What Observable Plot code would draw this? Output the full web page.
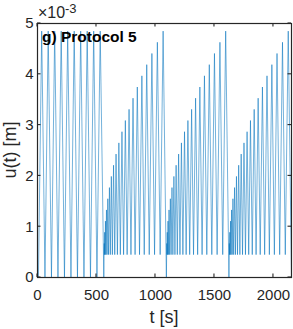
<!DOCTYPE html>
<html><head><meta charset="utf-8">
<script src="https://cdn.jsdelivr.net/npm/d3@7"></script>
<script src="https://cdn.jsdelivr.net/npm/@observablehq/plot@0.6"></script>
<style>body{margin:0;background:#fff}</style>
</head><body><div id="chart"></div>
<script>
// values in units of 1e-3 m
const xTicks = [0, 500, 1000, 1500, 2000];
const yTicks = [0, 1, 2, 3, 4, 5];
const titleText = "g) Protocol 5";
const xLabel = "t [s]";
const yLabel = "u(t) [m]";
const expBase = "\u00d710";
const expPower = "-3";

// segment 1: full-amplitude triangle cycles
const seg1T = [0, 8, 35.6, 63.2, 90.7, 118.3, 145.8, 173.4, 200.9, 228.5, 256.0, 283.6, 311.1, 338.7, 366.2, 393.8, 421.3, 448.9, 476.4, 504.0, 531.5, 562];
const seg1U = [0, 0, 4.85, 0, 4.85, 0, 4.85, 0, 4.85, 0, 4.85, 0, 4.85, 0, 4.85, 0, 4.85, 0, 4.85, 0, 4.85, 0];

// growing ramps: peaks above a baseline
const rampBase = 0.45;
const rampPeaks = [0.67, 0.89, 1.11, 1.33, 1.55, 1.77, 1.99, 2.21, 2.43, 2.65, 2.87, 3.09, 3.31, 3.53, 3.75, 3.97, 4.19, 4.41, 4.63, 4.85];
const ramp1T = [562, 565.8, 567.1, 569.6, 572.1, 575.9, 579.6, 584.6, 589.6, 595.9, 602.1, 609.7, 617.1, 625.9, 634.6, 644.7, 654.7, 665.9, 677.2, 689.7, 702.2, 715.9, 729.7, 744.7, 759.7, 776.0, 792.2, 809.7, 827.2, 846.0, 864.8, 884.8, 904.8, 926.0, 947.2, 969.7, 992.2, 1016.0, 1039.7, 1064.8, 1092.3];
const ramp2T = [1092.3, 1096.1, 1097.4, 1099.9, 1102.4, 1106.2, 1109.9, 1114.9, 1119.9, 1126.2, 1132.4, 1140.0, 1147.4, 1156.2, 1164.9, 1175.0, 1185.0, 1196.2, 1207.5, 1220.0, 1232.5, 1246.2, 1260.0, 1275.0, 1290.0, 1306.3, 1322.5, 1340.0, 1357.5, 1376.3, 1395.1, 1415.1, 1435.1, 1456.3, 1477.5, 1500.0, 1522.5, 1546.3, 1570.0, 1595.1, 1622.6];
const ramp3T = [1622.6, 1626.4, 1627.7, 1630.2, 1632.7, 1636.5, 1640.2, 1645.2, 1650.2, 1656.5, 1662.7, 1670.3, 1677.7, 1686.5, 1695.2, 1705.3, 1715.3, 1726.5, 1737.8, 1750.3, 1762.8, 1776.5, 1790.3, 1805.3, 1820.3, 1836.6, 1852.8, 1870.3, 1887.8, 1906.6, 1925.4, 1945.4, 1965.4, 1986.6, 2007.8, 2030.3, 2052.8, 2076.6, 2100.3, 2125.4, 2152.9];

// build table
const rampU = [0];
rampPeaks.forEach((p, i) => { rampU.push(p); if (i < rampPeaks.length - 1) rampU.push(rampBase); });
rampU.push(0);
const data = [];
seg1T.forEach((t, i) => data.push({t, u: seg1U[i]}));
[ramp1T, ramp2T, ramp3T].forEach(arr => arr.forEach((t, i) => data.push({t, u: rampU[i]})));

const ink = "#262626";
const font = "'Liberation Sans', Arial, sans-serif";
const chart = Plot.plot({
  width: 293, height: 329,
  marginLeft: 37, marginRight: 2, marginTop: 23, marginBottom: 52,
  style: {fontFamily: font, fontSize: "15px", color: ink, background: "white"},
  x: {domain: [0, 2153]},
  y: {domain: [0, 5]},
  marks: [
    Plot.line(data, {x: "t", y: "u", stroke: "#0072BD", strokeWidth: 0.55, clip: true}),
    Plot.frame({stroke: ink, strokeWidth: 1.2}),
    Plot.axisX({ticks: xTicks, tickSize: 0, tickPadding: 12, tickFormat: d => `${d}`, label: null, fontSize: 15}),
    Plot.axisY({ticks: yTicks, tickSize: 0, tickPadding: 4, tickFormat: d => `${d}`, label: null, fontSize: 15})
  ]
});
document.getElementById("chart").appendChild(chart);

const sx = chart.scale("x"), sy = chart.scale("y");
const [x0, x1] = sx.range, [y0, y1] = sy.range; // y0 bottom, y1 top
const svg = d3.select(chart);
const g = svg.append("g").attr("stroke", ink).attr("stroke-width", 1.1);
const L = 3.5;
xTicks.forEach(t => {
  const x = sx.apply(t);
  g.append("line").attr("x1", x).attr("x2", x).attr("y1", y0).attr("y2", y0 - L);
  g.append("line").attr("x1", x).attr("x2", x).attr("y1", y1).attr("y2", y1 + L);
});
yTicks.forEach(v => {
  const y = sy.apply(v);
  g.append("line").attr("x1", x0).attr("x2", x0 + L).attr("y1", y).attr("y2", y);
  g.append("line").attr("x1", x1).attr("x2", x1 - L).attr("y1", y).attr("y2", y);
});

function txt(x, y, size, anchor) {
  return svg.append("text").attr("x", x).attr("y", y).attr("font-size", size)
    .style("text-anchor", anchor).style("font-family", font).style("font-size", size + "px").style("fill", ink);
}
// x label
txt((x0 + x1) / 2, y0 + 46, 18, "middle").text(xLabel);
// y label
svg.append("text").attr("transform", `translate(${x0 - 21},${(y0 + y1) / 2}) rotate(-90)`)
  .style("text-anchor", "middle").style("font-family", font).style("font-size", "18px").style("fill", ink).text(yLabel);
// exponent
txt(x0 + 1, y1 - 5, 16, "start").text(expBase);
txt(x0 + 28, y1 - 10.5, 13, "start").text(expPower);
// title
txt(x0 + 5, y1 + 19, 15.5, "start").style("font-weight", "bold").style("fill", "#000").text(titleText);
</script></body></html>
